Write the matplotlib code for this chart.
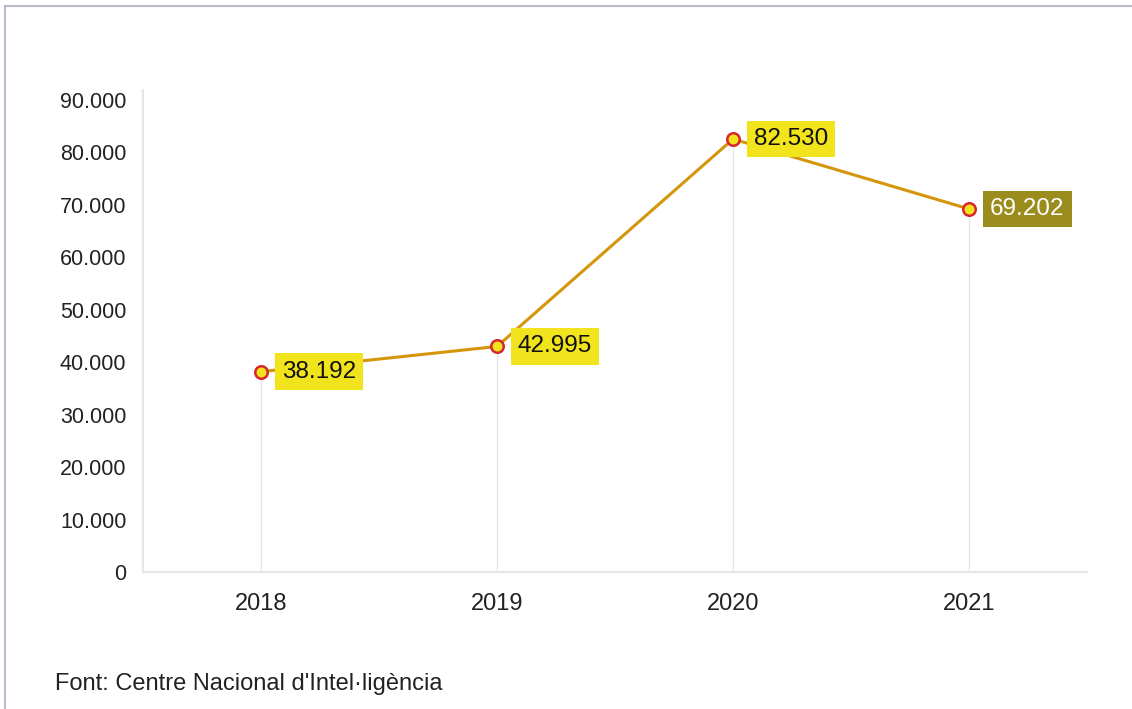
import matplotlib.pyplot as plt
from matplotlib.lines import Line2D

years = ["2018", "2019", "2020", "2021"]
values = [38192, 42995, 82530, 69202]
labels = ["38.192", "42.995", "82.530", "69.202"]
yticks = [0, 10000, 20000, 30000, 40000, 50000, 60000, 70000, 80000, 90000]
ytick_labels = ["0", "10.000", "20.000", "30.000", "40.000", "50.000",
                "60.000", "70.000", "80.000", "90.000"]

plt.rcParams['font.family'] = ['Liberation Sans', 'DejaVu Sans']

fig = plt.figure(figsize=(11.32, 7.09), dpi=100)
ax = fig.add_axes([0.1263, 0.1932, 0.834, 0.68])

x = list(range(len(years)))

# drop lines from each point to the axis
ax.vlines(x, 0, values, color="#e6e6e6", lw=1, zorder=1)

ax.plot(x, values, color="#d4960a", lw=2.2, zorder=2,
        marker="o", markersize=9, markerfacecolor="#f2e41c",
        markeredgecolor="#d8262e", markeredgewidth=1.8)

for i, (v, lab) in enumerate(zip(values, labels)):
    last = i == len(values) - 1
    ax.annotate(lab, (i, v), xytext=(15, 0), textcoords="offset points",
                ha="left", va="center", fontsize=17.5,
                color="white" if last else "#111111",
                bbox=dict(boxstyle="square,pad=0.3",
                          fc="#9b8c1e" if last else "#f2e41c", ec="none"),
                zorder=3)

ax.set_xlim(-0.5, 3.5)
ax.set_ylim(0, 91900)
ax.set_xticks(x)
ax.set_xticklabels(years, fontsize=17, color="#222222")
ax.set_yticks(yticks)
ax.set_yticklabels(ytick_labels, fontsize=15.5, color="#222222")
ax.tick_params(axis="y", length=0, pad=12)
ax.tick_params(axis="x", length=0, pad=15)

for s in ["top", "right"]:
    ax.spines[s].set_visible(False)
for s in ["left", "bottom"]:
    ax.spines[s].set_color("#e6e6e6")
    ax.spines[s].set_linewidth(1.5)

fig.text(55 / 1132, 1 - 684 / 709, "Font: Centre Nacional d'Intel·ligència",
         fontsize=17, color="#222222", va="center", ha="left")

# frame lines at top and left
fig.add_artist(Line2D([4.5 / 1132, 1], [1 - 6 / 709, 1 - 6 / 709],
                      color="#bdb9cc", lw=1.5))
fig.add_artist(Line2D([4.5 / 1132, 4.5 / 1132], [0, 1 - 6 / 709],
                      color="#bdb9cc", lw=1.5))

fig.savefig("out.png", dpi=100)
